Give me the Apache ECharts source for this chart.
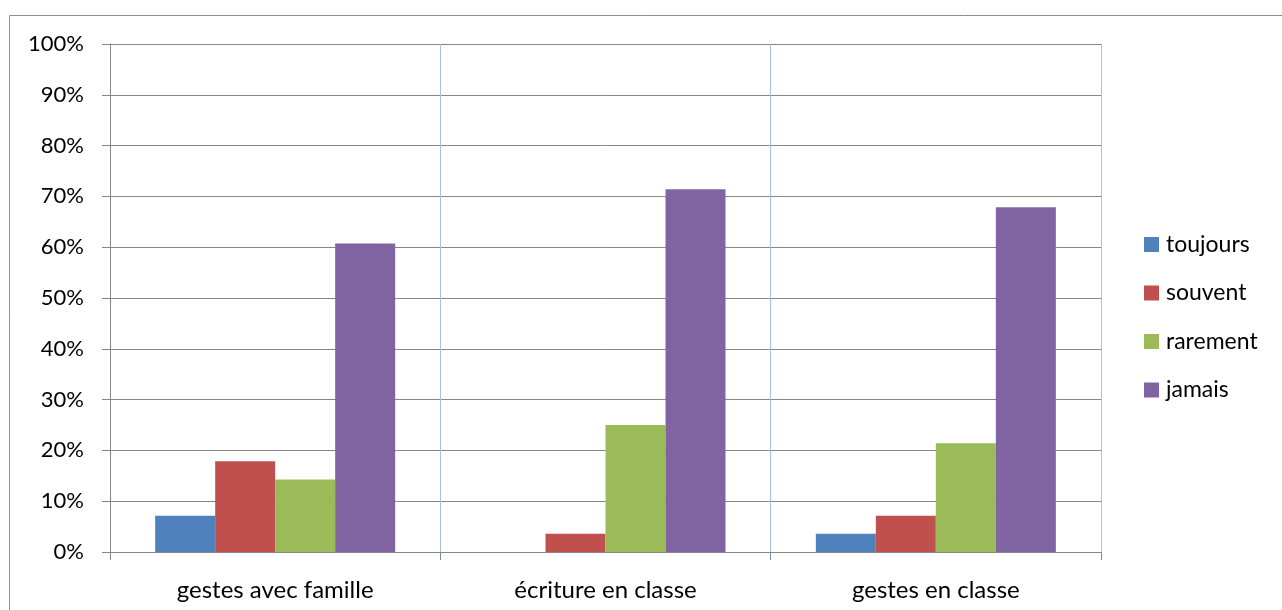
<!DOCTYPE html>
<html><head><meta charset="utf-8">
<script src="https://cdn.jsdelivr.net/npm/echarts@6/dist/echarts.min.js"></script>
<style>html,body{margin:0;padding:0;background:#fff}#c{width:1282px;height:610px}</style>
</head><body><div id="c"></div>
<script>
const categories = ['gestes avec famille', 'écriture en classe', 'gestes en classe'];
const seriesNames = ['toujours', 'souvent', 'rarement', 'jamais'];
const toujours = [0.0714, 0, 0.0357];
const souvent = [0.1786, 0.0357, 0.0714];
const rarement = [0.1429, 0.25, 0.2143];
const jamais = [0.6071, 0.7143, 0.6786];
const colors = ['#4F81BD', '#C0504D', '#9BBB59', '#8064A2'];
const values = [toujours, souvent, rarement, jamais];
const FONT = 'Lato, "Open Sans", sans-serif';

const chart = echarts.init(document.getElementById('c'));
chart.setOption({
  animation: false,
  color: colors,
  textStyle: {fontFamily: FONT},
  grid: {left: 110, right: 181, top: 44, bottom: 58, containLabel: false},
  graphic: [{type: 'rect', shape: {x: 9.5, y: 15.5, width: 1400, height: 800},
    style: {fill: 'none', stroke: '#8e8e8e', lineWidth: 1}, silent: true}],
  legend: {
    orient: 'vertical', left: 1144, top: 233, itemWidth: 15, itemHeight: 15,
    itemGap: 25.5, icon: 'rect', padding: 0,
    textStyle: {fontSize: 23, color: '#000', fontFamily: FONT, padding: [0, 0, 0, 2]},
    data: seriesNames
  },
  xAxis: {
    type: 'category', data: categories,
    axisLine: {lineStyle: {color: '#868686'}},
    axisTick: {show: true, length: 8, lineStyle: {color: '#868686'}},
    axisLabel: {fontSize: 24, color: '#000', margin: 26, fontFamily: FONT},
    splitLine: {show: true, lineStyle: {color: '#a7c0e9', width: 1}}
  },
  yAxis: {
    type: 'value', min: 0, max: 1, interval: 0.1,
    axisLine: {show: true, lineStyle: {color: '#868686'}},
    axisTick: {show: true, length: 8, lineStyle: {color: '#868686'}},
    axisLabel: {fontSize: 22, color: '#000', margin: 26, fontFamily: FONT,
      formatter: v => Math.round(v * 100) + '%'},
    splitLine: {lineStyle: {color: '#868686', width: 1}}
  },
  series: seriesNames.map((n, i) => ({
    name: n, type: 'bar', data: values[i], barWidth: 60, barGap: '0%',
    barCategoryGap: '27.3%',
    itemStyle: {color: colors[i]}
  }))
});
</script></body></html>
